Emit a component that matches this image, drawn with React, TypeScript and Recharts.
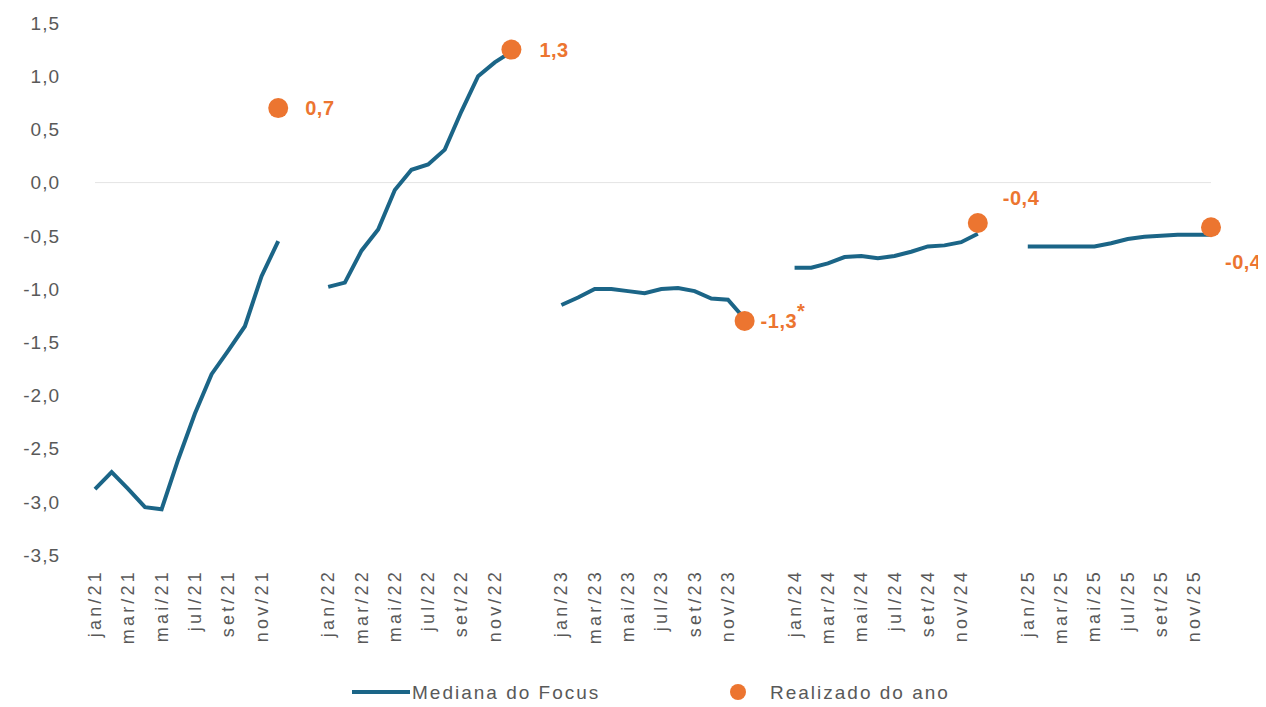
import React from 'react';
import { LineChart, Line, XAxis, YAxis, ReferenceLine, Legend } from 'recharts';

const MONTHS = ['jan', 'fev', 'mar', 'abr', 'mai', 'jun', 'jul', 'ago', 'set', 'out', 'nov', 'dez'];
const YEARS = ['21', '22', '23', '24', '25'];

const focus2021 = [-2.88, -2.72, -2.88, -3.05, -3.07, -2.6, -2.17, -1.8, -1.58, -1.35, -0.88, -0.55];
const focus2022 = [-0.98, -0.94, -0.64, -0.44, -0.07, 0.12, 0.17, 0.31, 0.67, 1.0, 1.13, 1.23];
const focus2023 = [-1.15, -1.08, -1.0, -1.0, -1.02, -1.04, -1.0, -0.99, -1.02, -1.09, -1.1, -1.28];
const focus2024 = [-0.8, -0.8, -0.76, -0.7, -0.69, -0.71, -0.69, -0.65, -0.6, -0.59, -0.56, -0.48];
const focus2025 = [-0.6, -0.6, -0.6, -0.6, -0.6, -0.57, -0.53, -0.51, -0.5, -0.49, -0.49, -0.49];
const focusByYear = [focus2021, focus2022, focus2023, focus2024, focus2025];

const realized = [0.7, 1.25, -1.3, -0.38, -0.42];
const realizedNote = ['', '', '*', '', ''];

const yTicks = [-3.5, -3.0, -2.5, -2.0, -1.5, -1.0, -0.5, 0.0, 0.5, 1.0, 1.5];

const SERIES_FOCUS = 'Mediana do Focus';
const SERIES_REAL = 'Realizado do ano';

// style: label placement relative to the dot
const labelPlacement = [
  { dx: 27, dy: 0 },
  { dx: 28, dy: 0 },
  { dx: 16, dy: 0 },
  { dx: 25, dy: -25 },
  { dx: 14, dy: 35 },
];

const BLUE = '#1b6587';
const ORANGE = '#ec7530';
const GRAY = '#595959';
const FONT = '"Liberation Sans", Arial, sans-serif';

type Row = { key: string; label: string; focus: number | null; realized: number | null; yearIdx: number };

const data: Row[] = [];
YEARS.forEach((yy, yi) => {
  MONTHS.forEach((m, mi) => {
    data.push({
      key: `${m}/${yy}`,
      label: `${m}/${yy}`,
      focus: focusByYear[yi][mi],
      realized: mi === 11 ? realized[yi] : null,
      yearIdx: yi,
    });
  });
  if (yi < YEARS.length - 1) {
    data.push({ key: `gap${yi}a`, label: '', focus: null, realized: null, yearIdx: yi });
    data.push({ key: `gap${yi}b`, label: '', focus: null, realized: null, yearIdx: yi });
  }
});

const labelByKey: Record<string, string> = {};
data.forEach((r) => {
  labelByKey[r.key] = r.label;
});

const fmt = (v: number) => v.toFixed(1).replace('.', ',');

const XTick = (props: any) => {
  const { x, y, payload } = props;
  const label = payload ? labelByKey[payload.value] : '';
  if (!label) return <g />;
  const ty = y + 6;
  return (
    <text
      x={x}
      y={ty}
      transform={`rotate(-90, ${x}, ${ty})`}
      textAnchor="end"
      dominantBaseline="central"
      fill={GRAY}
      fontSize={18}
      letterSpacing={3.2}
      fontFamily={FONT}
    >
      {label}
    </text>
  );
};

const RealizedDot = (props: any) => {
  const { cx, cy, payload, index } = props;
  if (!payload || payload.realized == null || cx == null || cy == null) return <g key={`d${index}`} />;
  const yi = payload.yearIdx;
  const p = labelPlacement[yi];
  return (
    <g key={`d${index}`}>
      <circle cx={cx} cy={cy} r={10} fill={ORANGE} />
      <text
        x={cx + p.dx}
        y={cy + p.dy}
        dominantBaseline="central"
        fill={ORANGE}
        fontSize={20}
        fontWeight="bold"
        letterSpacing={0.5}
        fontFamily={FONT}
      >
        {fmt(payload.realized)}
        {realizedNote[yi] ? (
          <tspan dy={-10} fontSize={20}>
            {realizedNote[yi]}
          </tspan>
        ) : null}
      </text>
    </g>
  );
};

const LegendContent = () => (
  <svg width={640} height={30}>
    <line x1={8} y1={15} x2={66} y2={15} stroke={BLUE} strokeWidth={4} />
    <text x={68} y={15} dominantBaseline="central" fill={GRAY} fontSize={19} letterSpacing={2} fontFamily={FONT}>
      {SERIES_FOCUS}
    </text>
    <circle cx={394} cy={15} r={8} fill={ORANGE} />
    <text x={426} y={15} dominantBaseline="central" fill={GRAY} fontSize={19} letterSpacing={2} fontFamily={FONT}>
      {SERIES_REAL}
    </text>
  </svg>
);

export default function App() {
  return (
    <div style={{ width: 1258, height: 699, background: '#fff' }}>
      <LineChart width={1258} height={699} data={data} margin={{ top: 15, right: 55, left: 27, bottom: 0 }}>
        <ReferenceLine y={0} stroke="#e4e4e4" strokeWidth={1} ifOverflow="visible" />
        <XAxis
          dataKey="key"
          scale="point"
          padding={{ left: 0, right: 0 }}
          interval={1}
          tickLine={false}
          axisLine={false}
          height={122}
          tick={<XTick />}
        />
        <YAxis
          type="number"
          domain={[-3.5, 1.5]}
          ticks={yTicks}
          tickFormatter={fmt}
          width={60}
          tickLine={false}
          axisLine={false}
          tickMargin={29}
          tick={{ fill: GRAY, fontSize: 19, fontFamily: FONT, letterSpacing: 1 }}
        />
        <Legend
          verticalAlign="bottom"
          content={<LegendContent />}
          wrapperStyle={{ left: 336, width: 640, height: 30, bottom: 0 }}
        />
        <Line
          name={SERIES_FOCUS}
          dataKey="focus"
          stroke={BLUE}
          strokeWidth={4}
          dot={false}
          activeDot={false}
          connectNulls={false}
          isAnimationActive={false}
          type="linear"
        />
        <Line
          name={SERIES_REAL}
          dataKey="realized"
          stroke="none"
          dot={<RealizedDot />}
          activeDot={false}
          isAnimationActive={false}
          legendType="circle"
        />
      </LineChart>
    </div>
  );
}
